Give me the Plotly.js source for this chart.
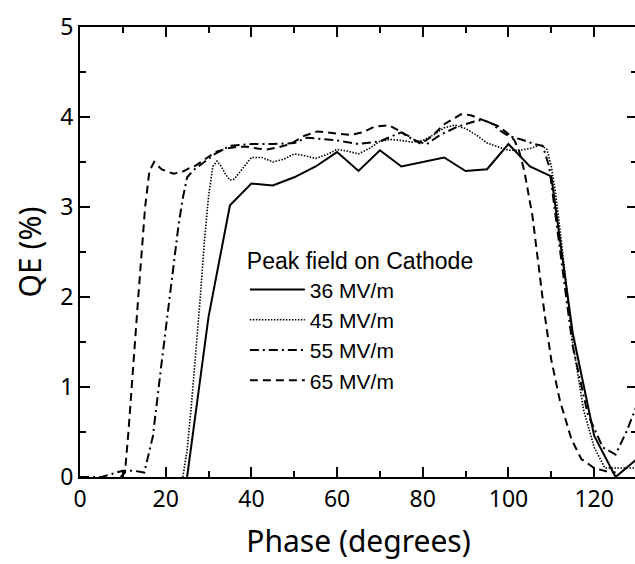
<!DOCTYPE html>
<html><head><meta charset="utf-8">
<script src="https://cdn.plot.ly/plotly-3.0.1.min.js"></script>
<style>html,body{margin:0;padding:0;overflow:hidden;background:#fff}#chart{width:637px;height:564px}</style>
</head><body><div id="chart"></div><script>
// Phase (degrees) and QE (%) for each peak field on cathode
const phase36 = [25,30,35,40,45,50,55,60,65,70,75,80,85,90,95,100,105,110,115,120,125,130];
const qe36    = [0,1.78,3.02,3.26,3.24,3.33,3.45,3.61,3.40,3.63,3.45,3.50,3.55,3.40,3.42,3.70,3.45,3.34,1.60,0.46,0.0,0.20];

const phase45 = [24,25,26,27,28,29,30,31,32,33,34,35,36,37.5,40,42.5,45,47.5,50,52.5,55,57.5,60,62.5,65,67.5,70,72.5,75,77.5,80,82.5,85,87.5,90,92.5,95,97.5,100,102.5,105,107.5,109,110,111,112.5,115,117.5,120,122.5,125,127.5,130];
const qe45    = [0,0.30,0.80,1.35,1.95,2.60,3.12,3.45,3.51,3.45,3.36,3.30,3.31,3.40,3.55,3.55,3.50,3.53,3.59,3.57,3.54,3.58,3.64,3.62,3.59,3.65,3.73,3.75,3.74,3.72,3.74,3.80,3.88,3.91,3.87,3.80,3.71,3.67,3.63,3.63,3.65,3.69,3.64,3.45,3.15,2.56,1.50,0.75,0.33,0.10,0.10,0.10,0.10];

const phase55 = [0,5,10,12.5,15,17,19,21,23,24,25,26.5,29,31.5,35,40,45,50,53,55,60,65,70,75,78,81,84,88,92,94,96,98,100,103,106,108,109.5,112.5,115,118.5,122,125,127.5,130];
const qe55    = [0,0,0.07,0.07,0.05,0.45,1.25,2.0,2.8,3.1,3.33,3.41,3.50,3.59,3.68,3.70,3.70,3.71,3.77,3.76,3.74,3.70,3.73,3.83,3.74,3.70,3.80,3.89,3.95,3.97,3.93,3.85,3.79,3.75,3.70,3.68,3.45,2.35,1.45,0.70,0.33,0.25,0.50,0.80];

const phase65 = [9.5,10.5,11.3,12.1,13.6,15.2,16.2,17.3,19,20,21.8,23.8,25.4,27,28.9,31.6,34.3,36.7,39,41.4,43.7,46,49.1,52.3,55.4,59.4,63.2,66,68.6,72.1,75.3,77,79.5,82,85,88.9,91.2,94.3,97.5,99.8,101.4,102.5,103.7,105.6,108.4,110,112,114.7,117,120,123,125];
const qe65    = [0,0.05,0.50,1.05,2.0,3.0,3.40,3.50,3.42,3.40,3.37,3.39,3.43,3.46,3.52,3.61,3.65,3.67,3.67,3.65,3.64,3.66,3.70,3.79,3.84,3.82,3.80,3.83,3.89,3.91,3.83,3.78,3.70,3.78,3.92,4.03,4.02,3.96,3.90,3.82,3.74,3.62,3.40,2.90,1.82,1.30,0.85,0.42,0.20,0.10,0.06,0.05];

const seriesNames = ['36 MV/m','45 MV/m','55 MV/m','65 MV/m'];
const legendTitle = 'Peak field on Cathode';
const xTitle = 'Phase (degrees)';
const yTitle = 'QE (%)';

const styles = [
  {dash:'solid', width:2},
  {dash:'1.5px,1.5px', width:1.6},
  {dash:'9px,4px,2px,4px', width:2},
  {dash:'8px,5px', width:2}
];
const xs = [phase36, phase45, phase55, phase65];
const ys = [qe36, qe45, qe55, qe65];

const traces = xs.map((x,i)=>({
  x:x, y:ys[i], type:'scatter', mode:'lines', name:seriesNames[i],
  line:{color:'#000', width:styles[i].width, dash:styles[i].dash}
}));
traces.push({x:[], y:[], yaxis:'y2', type:'scatter', mode:'lines', showlegend:false});

const tickFont = {family:'Noto Sans, sans-serif', size:23, color:'#000'};
const axisCommon = {
  showline:true, linewidth:2, linecolor:'#000', ticks:'inside', ticklen:10, tickwidth:2,
  tickcolor:'#000', showgrid:false, zeroline:false, tickfont:tickFont
};

const layout = {
  width:637, height:564,
  margin:{l:80, r:0, t:27, b:87},
  paper_bgcolor:'#fff', plot_bgcolor:'#fff',
  showlegend:true,
  legend:{
    x:0.296, y:0.528, xanchor:'left', yanchor:'top',
    bgcolor:'rgba(0,0,0,0)', borderwidth:0,
    font:{family:'Liberation Sans, Arial, sans-serif', size:21, color:'#000'},
    title:{text:legendTitle, side:'top', font:{family:'Liberation Sans, Arial, sans-serif', size:23, color:'#000'}},
    itemwidth:55, tracegroupgap:0
  },
  xaxis: Object.assign({}, axisCommon, {
    range:[0,130], mirror:'ticks', tick0:0, dtick:20,
    minor:{dtick:10, ticks:'inside', ticklen:6, tickwidth:2, tickcolor:'#000'},
    title:{text:xTitle, font:{family:'Noto Sans, sans-serif', size:30, color:'#000'}, standoff:18}
  }),
  yaxis: Object.assign({}, axisCommon, {
    range:[0,5], tick0:0, dtick:1,
    minor:{dtick:0.5, ticks:'inside', ticklen:6, tickwidth:2, tickcolor:'#000'},
    title:{text:yTitle, font:{family:'Noto Sans, sans-serif', size:30, color:'#000'}, standoff:10}
  }),
  yaxis2:{
    overlaying:'y', side:'right', range:[0,5], showline:false, showgrid:false, zeroline:false,
    ticks:'inside', ticklen:10, tickwidth:2, tickcolor:'#000', tick0:0, dtick:1, showticklabels:false,
    minor:{dtick:0.5, ticks:'inside', ticklen:6, tickwidth:2, tickcolor:'#000'}
  }
};

Plotly.newPlot('chart', traces, layout, {staticPlot:true, displayModeBar:false});
</script></body></html>
